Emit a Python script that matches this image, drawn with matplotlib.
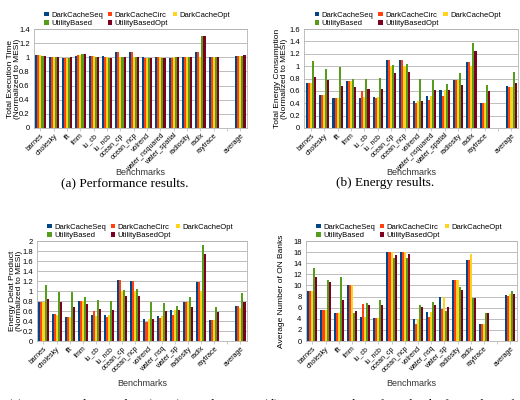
import numpy as np
import matplotlib.pyplot as plt

plt.rcParams['font.family'] = ['Liberation Sans', 'DejaVu Sans']

# benchmarks (empty slot before the average)
bench_top = ['barnes', 'cholesky', 'fft', 'fmm', 'lu_cb', 'lu_ncb', 'ocean_cp', 'ocean_ncp',
             'volrend', 'water_nsquared', 'water_spatial', 'radiosity', 'radix', 'raytrace',
             '', 'average']
bench_bot = ['barnes', 'cholesky', 'fft', 'fmm', 'lu_cb', 'lu_ncb', 'ocean_cp', 'ocean_ncp',
             'volrend', 'water_nsq', 'water_sp', 'radiosity', 'radix', 'raytrace',
             '', 'average']

series = ['DarkCacheSeq', 'DarkCacheCirc', 'DarkCacheOpt', 'UtilityBased', 'UtilityBasedOpt']
colors = ['#004586', '#ff420e', '#ffd320', '#579d1c', '#7e0021']

# (a) execution time, one row per series
perf_seq  = [1.03, 1.01, 0.99, 1.02, 1.02, 1.02, 1.07, 1.07, 1.00, 1.00, 0.99, 1.00, 1.07, 1.01, 0, 1.02]
perf_circ = [1.03, 1.01, 0.99, 1.03, 1.02, 1.01, 1.07, 1.07, 0.99, 1.00, 0.99, 1.00, 1.07, 1.01, 0, 1.02]
perf_opt  = [1.03, 1.01, 0.99, 1.03, 1.02, 1.01, 1.00, 1.01, 0.99, 1.00, 1.00, 1.00, 1.00, 1.01, 0, 1.02]
perf_ub   = [1.02, 1.00, 0.99, 1.05, 1.01, 0.99, 1.00, 1.01, 0.99, 0.99, 1.00, 1.00, 1.30, 1.00, 0, 1.02]
perf_ubo  = [1.02, 1.00, 1.00, 1.05, 1.01, 0.99, 1.00, 1.01, 0.99, 0.99, 1.00, 1.00, 1.30, 1.00, 0, 1.03]

# (b) energy
en_seq  = [0.73, 0.53, 0.49, 0.76, 0.49, 0.50, 1.10, 1.10, 0.44, 0.51, 0.62, 0.77, 1.06, 0.40, 0, 0.68]
en_circ = [0.73, 0.53, 0.49, 0.76, 0.59, 0.48, 1.10, 1.10, 0.40, 0.46, 0.52, 0.77, 1.06, 0.40, 0, 0.67]
en_opt  = [0.73, 0.53, 0.49, 0.76, 0.50, 0.50, 1.00, 1.00, 0.44, 0.51, 0.62, 0.77, 1.00, 0.40, 0, 0.66]
en_ub   = [1.09, 0.96, 0.99, 0.80, 0.80, 0.81, 1.02, 1.03, 0.80, 0.77, 0.71, 0.89, 1.38, 0.69, 0, 0.91]
en_ubo  = [0.82, 0.78, 0.68, 0.67, 0.63, 0.63, 0.89, 0.90, 0.44, 0.61, 0.62, 0.69, 1.24, 0.59, 0, 0.73]

# (c) energy delay product
edp_seq  = [0.78, 0.55, 0.49, 0.80, 0.52, 0.53, 1.22, 1.20, 0.44, 0.51, 0.62, 0.78, 1.18, 0.42, 0, 0.71]
edp_circ = [0.78, 0.55, 0.49, 0.80, 0.61, 0.49, 1.22, 1.21, 0.39, 0.46, 0.52, 0.78, 1.18, 0.42, 0, 0.70]
edp_opt  = [0.78, 0.53, 0.49, 0.80, 0.51, 0.52, 1.00, 1.00, 0.44, 0.51, 0.62, 0.78, 1.00, 0.42, 0, 0.67]
edp_ub   = [1.13, 0.98, 0.99, 0.88, 0.83, 0.80, 1.03, 1.05, 0.79, 0.77, 0.71, 0.89, 1.93, 0.69, 0, 0.96]
edp_ubo  = [0.85, 0.79, 0.69, 0.74, 0.65, 0.62, 0.90, 0.91, 0.44, 0.61, 0.62, 0.69, 1.74, 0.59, 0, 0.78]

# (d) average number of ON banks
on_seq  = [9.0, 5.5, 5.0, 10.0, 4.3, 4.2, 16.0, 16.0, 4.0, 5.3, 8.0, 11.0, 14.6, 3.0, 0, 8.2]
on_circ = [9.0, 5.5, 5.0, 10.0, 6.6, 4.2, 16.0, 16.0, 3.0, 4.3, 5.7, 11.0, 14.6, 3.0, 0, 8.1]
on_opt  = [9.0, 5.5, 5.0, 10.0, 4.3, 4.2, 16.0, 16.0, 4.0, 5.3, 8.0, 11.0, 15.7, 3.0, 0, 8.4]
on_ub   = [13.1, 10.9, 11.5, 5.0, 6.8, 7.3, 14.9, 15.0, 6.5, 7.0, 5.4, 9.8, 7.8, 5.1, 0, 9.0]
on_ubo  = [11.5, 10.7, 7.4, 5.4, 6.5, 6.4, 15.5, 15.6, 6.1, 6.5, 6.1, 9.2, 7.7, 5.0, 0, 8.5]


def bar_panel(rect, labels, values, ylabel, ymax, ystep, ylab_x, xlab_y):
    ax = fig.add_axes(rect)
    x = np.arange(len(labels))
    w = 0.155
    bars = []
    for i, (vals, col, name) in enumerate(zip(values, colors, series)):
        bars.append(ax.bar(x + (i - 2) * w, vals, w, color=col, label=name, zorder=3, linewidth=0))
    ax.set_xlim(-0.5, len(labels) - 0.5)
    ax.set_ylim(0, ymax)
    ticks = np.arange(0, ymax + ystep / 2, ystep)
    ax.set_yticks(ticks)
    ax.set_yticklabels(['%g' % round(t, 2) for t in ticks], fontsize=5.5)
    ax.yaxis.grid(True, color='#b3b3b3', linewidth=0.6, zorder=0)
    ax.set_xticks(x)
    ax.set_xticklabels(labels, rotation=45, ha='right', rotation_mode='anchor', fontsize=5)
    ax.tick_params(axis='x', length=2, width=0.5, color='#b3b3b3', pad=1)
    ax.tick_params(axis='y', length=0, pad=3)
    for s in ax.spines.values():
        s.set_color('#b3b3b3')
        s.set_linewidth(0.6)
    ax.set_ylabel(ylabel, fontsize=6, linespacing=1.0, va='center')
    ax.yaxis.set_label_coords(ylab_x, 0.5)
    ax.set_xlabel('Benchmarks', fontsize=6.5, color='#333333', va='center')
    ax.xaxis.set_label_coords(0.5, xlab_y)
    # row-wise legend: Seq Circ Opt / UB UBO
    order = [0, 3, 1, 4, 2]
    ax.legend([bars[i] for i in order], [series[i] for i in order], ncol=3,
              loc='lower left', bbox_to_anchor=(0.05, 1.02), fontsize=5.5,
              frameon=False, handlelength=0.6, handleheight=0.6, handletextpad=0.3,
              columnspacing=0.6, labelspacing=0.15, borderaxespad=0, borderpad=0)
    return ax


fig = plt.figure(figsize=(5.2, 4.0), dpi=100)

bar_panel([0.065, 0.68, 0.41, 0.2475], bench_top,
          [perf_seq, perf_circ, perf_opt, perf_ub, perf_ubo],
          'Total Execution Time\n(Normalized to MESI)', 1.4, 0.2, -0.095, -0.445)
bar_panel([0.585, 0.68, 0.4115, 0.2475], bench_top,
          [en_seq, en_circ, en_opt, en_ub, en_ubo],
          'Total Energy Consumption\n(Normalized to MESI)', 1.6, 0.2, -0.11, -0.445)
bar_panel([0.071, 0.1475, 0.404, 0.25], bench_bot,
          [edp_seq, edp_circ, edp_opt, edp_ub, edp_ubo],
          'Energy Delat Product\n(Normalized to MESI)', 2.0, 0.2, -0.1, -0.42)
bar_panel([0.588, 0.1475, 0.406, 0.25], bench_bot,
          [on_seq, on_circ, on_opt, on_ub, on_ubo],
          'Average Number of ON Banks', 18, 2, -0.115, -0.42)

cap = dict(fontsize=9.5, family=['Liberation Serif', 'DejaVu Serif'], va='center')
fig.text(0.24, 1 - 183 / 400, '(a) Performance results.', ha='center', **cap)
fig.text(0.74, 1 - 183 / 400, '(b) Energy results.', ha='center', **cap)
fig.text(0.015, -0.012, '(c) Energy Delay Product (EDP) Results.', ha='left', **cap)
fig.text(0.505, -0.012, '(d) Average number of ON banks for each configuration.', ha='left', **cap)

fig.savefig('out.png', dpi=100)
